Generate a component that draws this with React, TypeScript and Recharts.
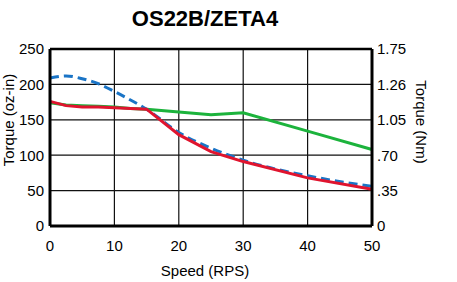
import React from "react";
import {
  LineChart,
  Line,
  XAxis,
  YAxis,
  CartesianGrid,
  ReferenceLine,
} from "recharts";

// speed in RPS
const speeds = [0, 2.5, 5, 7.5, 10, 12.5, 15, 20, 25, 30, 40, 50];
// torque (oz-in) per curve
const blueDashed = [209, 212, 208, 201, 190, 178, 165, 132, 110, 93, 71, 56];
const redSolid = [176, 170, 168, 168, 167, 166, 165, 129, 105, 91, 68, 52];
const greenSolid = [174, 171, 170, 169, 168, 166, 165, 161, 157, 160, 134, 108];

const xTicks = [0, 10, 20, 30, 40, 50];
const yTicks = [0, 50, 100, 150, 200, 250];
const nmLabels = ["0", ".35", ".70", "1.05", "1.26", "1.75"];

const data = speeds.map((s, i) => ({
  speed: s,
  blue: blueDashed[i],
  red: redSolid[i],
  green: greenSolid[i],
}));

const font = "'Liberation Sans', Arial, Helvetica, sans-serif";
const tickStyle = { fontSize: 15, fill: "#000", fontFamily: font };

export default function App() {
  return (
    <div
      style={{
        position: "absolute",
        left: 0,
        top: 0,
        width: 457,
        height: 282,
        background: "#fff",
        fontFamily: font,
        color: "#000",
      }}
    >
      <div
        style={{
          position: "absolute",
          left: 0,
          width: 410,
          top: 6,
          textAlign: "center",
          fontSize: 22,
          fontWeight: "bold",
          lineHeight: "26px",
        }}
      >
        OS22B/ZETA4
      </div>
      <LineChart
        width={457}
        height={282}
        data={data}
        margin={{ top: 49, right: 40, bottom: 26, left: 0 }}
      >
        <CartesianGrid yAxisId="left" stroke="#111" strokeWidth={1.2} />
        <XAxis
          dataKey="speed"
          type="number"
          domain={[0, 50]}
          ticks={xTicks}
          tick={tickStyle}
          tickLine={false}
          tickSize={0}
          tickMargin={14}
          height={30}
          axisLine={{ stroke: "#000", strokeWidth: 3 }}
        />
        <YAxis
          yAxisId="left"
          domain={[0, 250]}
          ticks={yTicks}
          tick={tickStyle}
          tickLine={false}
          tickSize={0}
          tickMargin={6}
          width={50}
          axisLine={{ stroke: "#000", strokeWidth: 3 }}
        />
        <YAxis
          yAxisId="right"
          orientation="right"
          domain={[0, 250]}
          ticks={yTicks}
          tickFormatter={(v: number) => nmLabels[yTicks.indexOf(v)]}
          tick={tickStyle}
          tickLine={false}
          tickSize={0}
          tickMargin={5}
          width={45}
          axisLine={{ stroke: "#000", strokeWidth: 3 }}
        />
        <ReferenceLine yAxisId="left" y={250} stroke="#000" strokeWidth={2.5} />
        <Line
          yAxisId="right"
          dataKey="green"
          stroke="none"
          dot={false}
          activeDot={false}
          isAnimationActive={false}
        />
        <Line
          yAxisId="left"
          type="linear"
          dataKey="green"
          stroke="#1cb33c"
          strokeWidth={3}
          dot={false}
          isAnimationActive={false}
        />
        <Line
          yAxisId="left"
          type="monotone"
          dataKey="blue"
          stroke="#1a74c6"
          strokeWidth={3}
          strokeDasharray="9 5"
          dot={false}
          isAnimationActive={false}
        />
        <Line
          yAxisId="left"
          type="linear"
          dataKey="red"
          stroke="#e0142e"
          strokeWidth={3}
          dot={false}
          isAnimationActive={false}
        />
      </LineChart>
      <div
        style={{
          position: "absolute",
          left: 0,
          width: 410,
          top: 262,
          textAlign: "center",
          fontSize: 15,
          lineHeight: "18px",
        }}
      >
        Speed (RPS)
      </div>
      <div
        style={{
          position: "absolute",
          left: 9,
          top: 120,
          fontSize: 15,
          lineHeight: "18px",
          whiteSpace: "nowrap",
          transform: "translate(-50%, -50%) rotate(-90deg)",
        }}
      >
        Torque (oz-in)
      </div>
      <div
        style={{
          position: "absolute",
          left: 421,
          top: 122,
          fontSize: 15,
          lineHeight: "18px",
          whiteSpace: "nowrap",
          transform: "translate(-50%, -50%) rotate(90deg)",
        }}
      >
        Torque (Nm)
      </div>
    </div>
  );
}
